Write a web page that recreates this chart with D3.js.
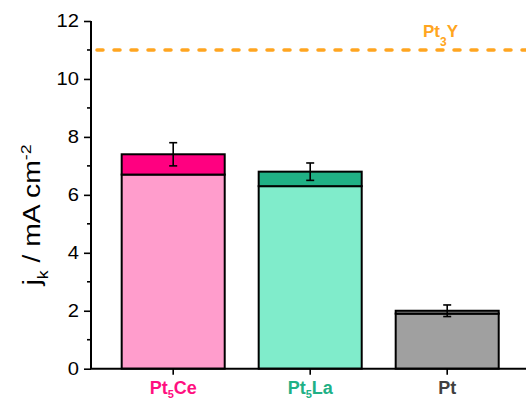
<!DOCTYPE html>
<html>
<head>
<meta charset="utf-8">
<script src="https://cdn.jsdelivr.net/npm/d3@7"></script>
<style>
  html, body { margin: 0; padding: 0; background: #fff; }
  svg { display: block; font-family: Arial, "Liberation Sans", sans-serif; }
</style>
</head>
<body>
<svg id="chart" width="526" height="402"></svg>
<script>
// Catalyst kinetic current densities
const categories = ["Pt5Ce", "Pt5La", "Pt"];
const totalValues = [7.4, 6.8, 2.0];     // full bar height
const baseValues = [6.7, 6.3, 1.9];      // lower segment
const errorValues = [0.4, 0.3, 0.2];     // error bar half-width
const refValue = 11.0;                   // Pt3Y reference level
const yTicks = [0, 2, 4, 6, 8, 10, 12];

const baseColors = ["#ff9dcc", "#80eccb", "#a0a0a0"];
const topColors = ["#ff0080", "#20b085", "#8a8a8a"];
const labelColors = ["#ff0f80", "#20b085", "#404040"];

const svg = d3.select("#chart");
const plotLeft = 91, plotTop = 21, plotBottom = 368.7, plotRight = 529.4;

const y = d3.scaleLinear().domain([0, 12]).range([plotBottom, plotTop]);
const x = d3.scaleBand().domain(categories).range([plotLeft, plotRight])
  .paddingInner(0.248).paddingOuter(0.224);

// reference dashed line
svg.append("line")
  .attr("x1", plotLeft + 6).attr("x2", 526)
  .attr("y1", y(refValue)).attr("y2", y(refValue))
  .attr("stroke", "#ffa520").attr("stroke-width", 3.5)
  .attr("stroke-linecap", "round")
  .attr("stroke-dasharray", "6,11");

const refLabel = svg.append("text")
  .attr("x", 423).attr("y", 37)
  .attr("fill", "#ffa520").attr("font-weight", "bold").attr("font-size", 17);
refLabel.append("tspan").text("Pt");
refLabel.append("tspan").attr("font-size", 12).attr("dy", 9).text("3");
refLabel.append("tspan").attr("dy", -9).text("Y");

const bars = svg.append("g").selectAll("g").data(categories).join("g");

// lower segment
bars.append("rect")
  .attr("x", d => x(d)).attr("width", x.bandwidth())
  .attr("y", (d, i) => y(baseValues[i]))
  .attr("height", (d, i) => y(0) - y(baseValues[i]))
  .attr("fill", (d, i) => baseColors[i])
  .attr("stroke", "#000").attr("stroke-width", 2);

// upper segment
bars.append("rect")
  .attr("x", d => x(d)).attr("width", x.bandwidth())
  .attr("y", (d, i) => y(totalValues[i]))
  .attr("height", (d, i) => y(baseValues[i]) - y(totalValues[i]))
  .attr("fill", (d, i) => topColors[i])
  .attr("stroke", "#000").attr("stroke-width", 2);

// error bars
const err = bars.append("g").attr("stroke", "#000").attr("stroke-width", 1.6);
err.append("line")
  .attr("x1", d => x(d) + x.bandwidth() / 2).attr("x2", d => x(d) + x.bandwidth() / 2)
  .attr("y1", (d, i) => y(totalValues[i] + errorValues[i]))
  .attr("y2", (d, i) => y(totalValues[i] - errorValues[i]));
[1, -1].forEach(s => {
  err.append("line")
    .attr("x1", d => x(d) + x.bandwidth() / 2 - 4).attr("x2", d => x(d) + x.bandwidth() / 2 + 4)
    .attr("y1", (d, i) => y(totalValues[i] + s * errorValues[i]))
    .attr("y2", (d, i) => y(totalValues[i] + s * errorValues[i]));
});

// y axis
const yAxis = svg.append("g").attr("transform", `translate(${plotLeft},0)`)
  .call(d3.axisLeft(y).tickValues(yTicks).tickSize(7).tickPadding(5).tickFormat(d3.format("d")));
yAxis.select(".domain").attr("stroke-width", 2).attr("d", `M0,${plotTop}V${plotBottom}`);
yAxis.selectAll(".tick line").attr("stroke-width", 1.6);
yAxis.selectAll(".tick text").attr("font-size", 18).attr("fill", "#000")
  .attr("font-family", "Arial, 'Liberation Sans', sans-serif")
  .attr("x", -12 / 1.12).attr("transform", "scale(1.12,1)");
// minor ticks
svg.append("g").selectAll("line").data(d3.range(1, 12, 2)).join("line")
  .attr("x1", plotLeft - 4).attr("x2", plotLeft)
  .attr("y1", d => y(d)).attr("y2", d => y(d))
  .attr("stroke", "#000").attr("stroke-width", 1.6);

// x axis
svg.append("line").attr("x1", plotLeft - 1).attr("x2", 526)
  .attr("y1", plotBottom).attr("y2", plotBottom)
  .attr("stroke", "#000").attr("stroke-width", 2);
svg.append("g").selectAll("line").data(categories).join("line")
  .attr("x1", d => x(d) + x.bandwidth() / 2).attr("x2", d => x(d) + x.bandwidth() / 2)
  .attr("y1", plotBottom).attr("y2", plotBottom + 6)
  .attr("stroke", "#000").attr("stroke-width", 1.6);

// category labels
const labelParts = [["Pt", "5", "Ce"], ["Pt", "5", "La"], ["Pt", "", ""]];
categories.forEach((c, i) => {
  const t = svg.append("text")
    .attr("x", x(c) + x.bandwidth() / 2).attr("y", 394)
    .attr("text-anchor", "middle").attr("font-weight", "bold").attr("font-size", 18)
    .attr("fill", labelColors[i]);
  t.append("tspan").text(labelParts[i][0]);
  if (labelParts[i][1]) {
    t.append("tspan").attr("font-size", 11).attr("dy", 4).text(labelParts[i][1]);
    t.append("tspan").attr("dy", -4).text(labelParts[i][2]);
  }
});

// y axis title
const yt = svg.append("text")
  .attr("transform", "translate(40,215) rotate(-90) scale(1.18,1)")
  .attr("text-anchor", "middle").attr("font-size", 24).attr("fill", "#000");
yt.append("tspan").text("j");
yt.append("tspan").attr("font-size", 15).attr("dy", 8).text("k");
yt.append("tspan").attr("dy", -8).text(" / mA cm");
yt.append("tspan").attr("font-size", 15).attr("dy", -9).text("-2");
</script>
</body>
</html>
